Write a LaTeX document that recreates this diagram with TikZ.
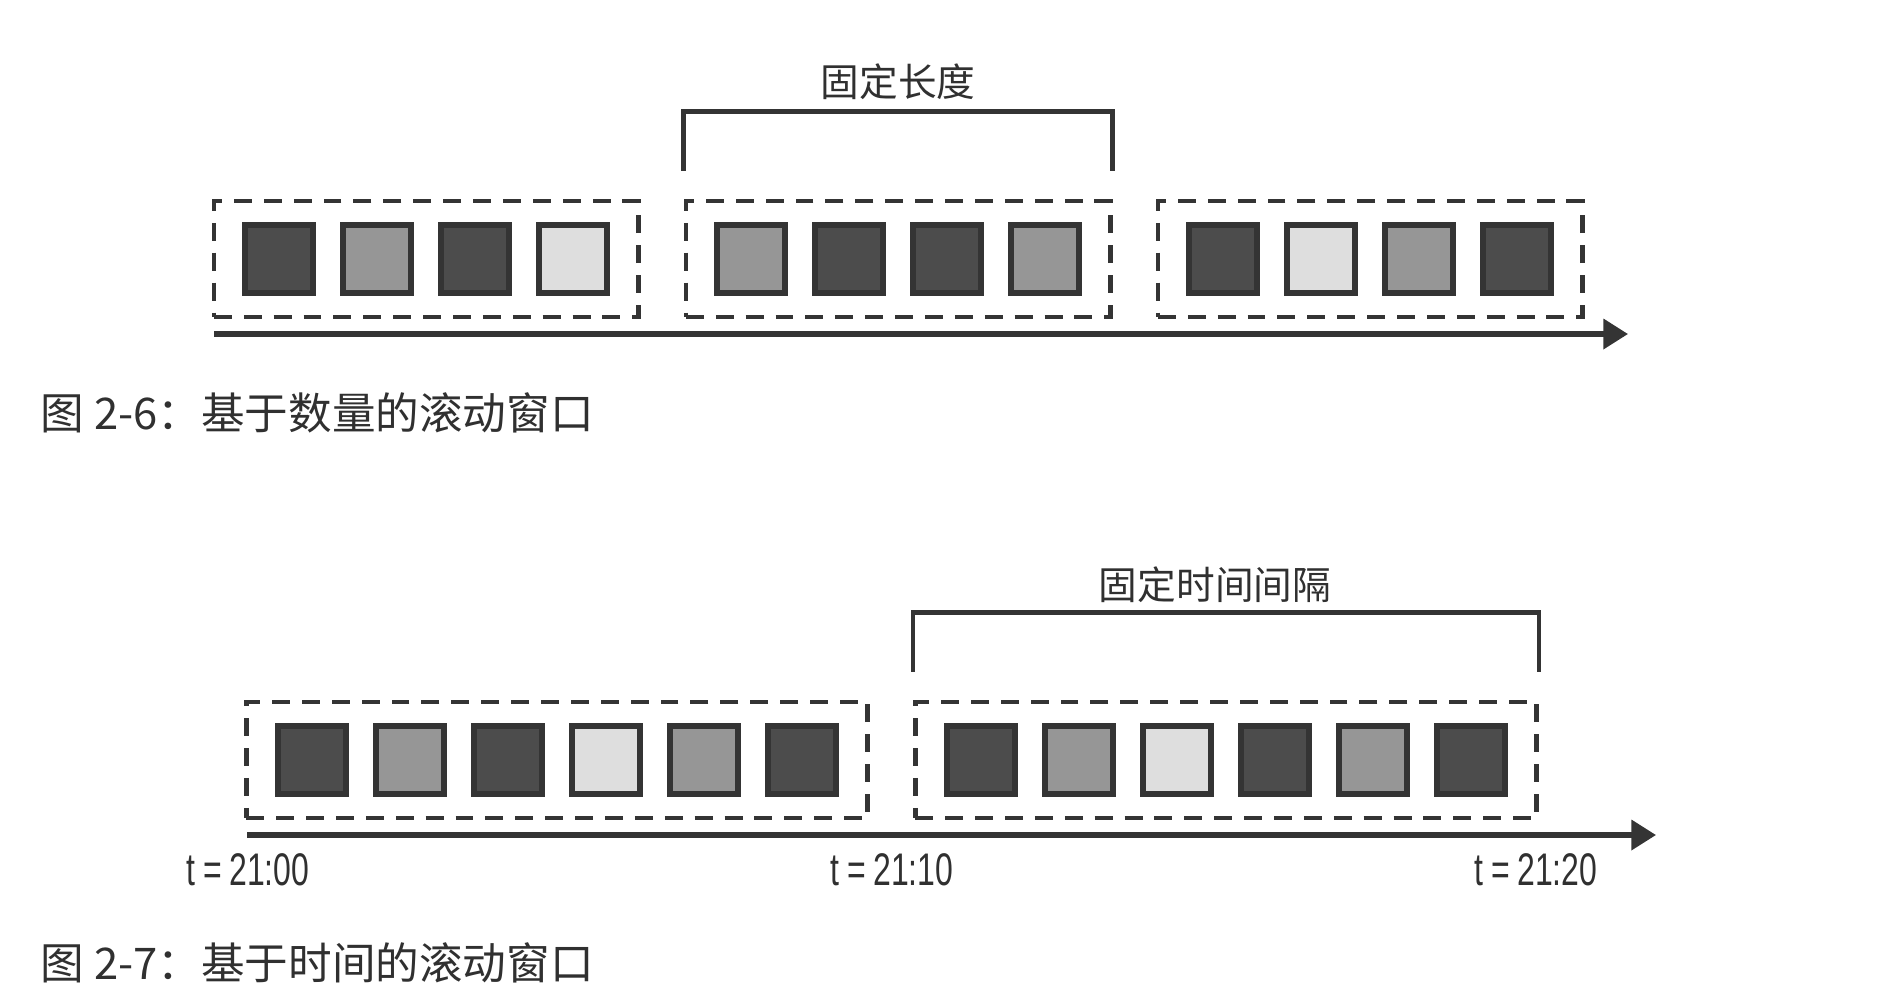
\documentclass[tikz,border=0pt]{standalone}
\usepackage{fontspec}
\setmainfont{Liberation Sans}
\newfontfamily\cjkfont{Noto Sans CJK SC}
\newfontfamily\timefont[FakeStretch=0.7]{Liberation Sans}
\usetikzlibrary{arrows.meta, calc, positioning}
\definecolor{evdark}{RGB}{76, 76, 76}
\definecolor{evmid}{RGB}{150, 150, 150}
\definecolor{evlight}{RGB}{222, 222, 222}
\definecolor{edgegray}{RGB}{52, 52, 52}
\definecolor{textgray}{RGB}{48, 48, 48}

\begin{document}
\begin{tikzpicture}[x=0.01cm, y=-0.01cm,
	winbox/.style={draw=edgegray, line width=1.35pt,
		dash pattern=on 5.1pt off 3.4pt, minimum height=1.16cm, inner sep=0pt},
	event/.style={draw=edgegray, line width=1.6pt, minimum size=0.68cm,
		inner sep=0pt},
	bracket/.style={draw=edgegray, line width=1.35pt},
	timeline/.style={draw=edgegray, line width=1.45pt,
		-{Triangle[length=7pt, width=8.4pt]}},
	lbl/.style={font=\cjkfont\fontsize{11}{13}\selectfont, text=textgray},
	caption/.style={font=\cjkfont\fontsize{12.4}{14}\selectfont, text=textgray,
		anchor=west, inner sep=0pt},
	tlabel/.style={font=\timefont\fontsize{13}{15}\selectfont, text=textgray}
	]
	\useasboundingbox (0,0) rectangle (1899,1002);

	% count based windows
	\node[winbox, minimum width=4.24cm] (c1) at (426,259) {};
	\node[winbox, minimum width=4.24cm] (c2) at (898,259) {};
	\node[winbox, minimum width=4.24cm] (c3) at (1370,259) {};
	\foreach \c [count=\i from 0] in {evdark, evmid, evdark, evlight}
		\node[event, fill=\c] (ca\i) at ({279+98*\i},259) {};
	\foreach \c [count=\i from 0] in {evmid, evdark, evdark, evmid}
		\node[event, fill=\c] (cb\i) at ({751+98*\i},259) {};
	\foreach \c [count=\i from 0] in {evdark, evlight, evmid, evdark}
		\node[event, fill=\c] (cc\i) at ({1223+98*\i},259) {};
	\draw[bracket] ($(c2.north west)+(0,-28)$) |- ($(c2.north east)+(0,-87)$)
		-- ($(c2.north east)+(0,-28)$);
	\node[lbl] (clen) at (898,82) {固定长度};
	\coordinate (cs) at (214,334);
	\coordinate (ce) at (1628,334);
	\draw[timeline] (cs) -- (ce);
	\node[caption] (cap1) at (40,413) {图 2-6：基于数量的滚动窗口};

	% time based windows
	\node[winbox, minimum width=6.21cm] (t1) at (557,760) {};
	\node[winbox, minimum width=6.21cm] (t2) at (1226,760) {};
	\foreach \c [count=\i from 0] in {evdark, evmid, evdark, evlight, evmid, evdark}
		\node[event, fill=\c] (ta\i) at ({312+98*\i},760) {};
	\foreach \c [count=\i from 0] in {evdark, evmid, evlight, evdark, evmid, evdark}
		\node[event, fill=\c] (tb\i) at ({981+98*\i},760) {};
	\draw[bracket] ($(t2.north west)+(0,-28)$) |- ($(t2.north east)+(0,-87)$)
		-- ($(t2.north east)+(0,-28)$);
	\node[lbl] (tlen) at (1215,585) {固定时间间隔};
	\coordinate (ts) at (247,835);
	\coordinate (te) at (1656,835);
	\draw[timeline] (ts) -- (te);
	\node[tlabel] (t0) at (248,870) {t\,=\,21:00};
	\node[tlabel] (t10) at (892,870) {t\,=\,21:10};
	\node[tlabel] (t20) at (1536,870) {t\,=\,21:20};
	\node[caption] (cap2) at (40,963) {图 2-7：基于时间的滚动窗口};
\end{tikzpicture}
\end{document}
